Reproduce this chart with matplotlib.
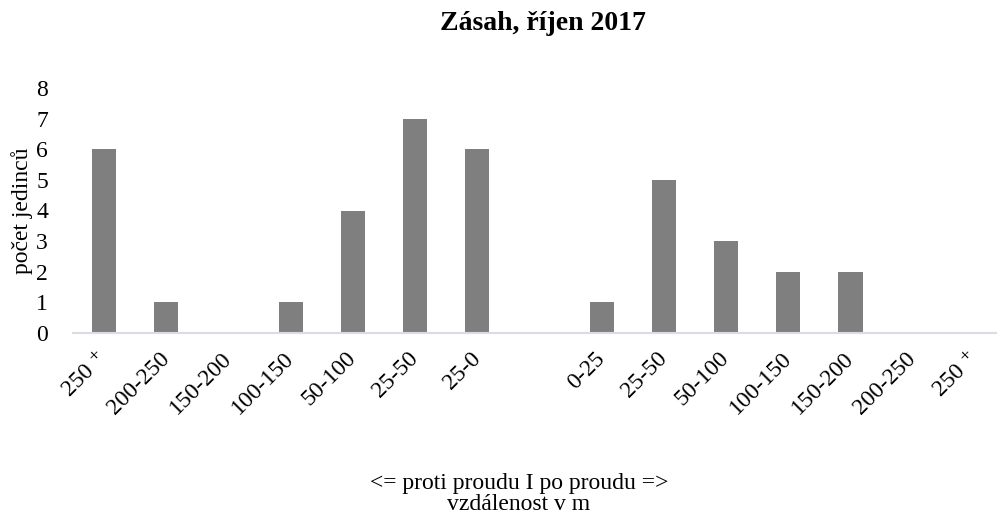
import matplotlib
matplotlib.use("Agg")
import matplotlib.pyplot as plt

plt.rcParams['font.family'] = ['Liberation Serif', 'DejaVu Serif']

# kategorie vzdalenosti (proti proudu | mezera | po proudu)
kategorie = ["250 ⁺", "200-250", "150-200", "100-150", "50-100", "25-50", "25-0",
             "",
             "0-25", "25-50", "50-100", "100-150", "150-200", "200-250", "250 ⁺"]
pocet = [6, 1, 0, 1, 4, 7, 6, 0, 1, 5, 3, 2, 2, 0, 0]

fig = plt.figure(figsize=(9.97, 5.17), dpi=100)
ax = fig.add_axes([73 / 997, 1 - 333 / 517, 933 / 997, 245 / 517])

x = list(range(len(kategorie)))
ax.bar(x, pocet, width=0.39, color="#7f7f7f", zorder=2)

ax.set_xlim(-0.5, len(kategorie) - 0.5)
ax.set_ylim(0, 8)
ax.set_yticks(range(0, 9))
ax.set_xticks(x)
ax.set_xticklabels(kategorie, rotation=45, ha="right", va="center",
                   rotation_mode="anchor", fontsize=17)
ax.tick_params(axis="x", length=0, pad=16)
ax.tick_params(axis="y", length=0, labelsize=17, pad=18)

for s in ["top", "right", "left"]:
    ax.spines[s].set_visible(False)
ax.spines["bottom"].set_color("#d9dde3")
ax.spines["bottom"].set_linewidth(1.5)

ax.set_ylabel("počet jedinců", fontsize=17, labelpad=2)
fig.text(543 / 997, 1 - 24 / 517, "Zásah, říjen 2017", ha="center", va="center",
         fontsize=20, fontweight="bold")
fig.text(519 / 997, 1 - 483 / 517, "<= proti proudu I po proudu =>", ha="center",
         va="center", fontsize=17)
fig.text(519 / 997, 1 - 505 / 517, "vzdálenost v m", ha="center", va="center",
         fontsize=17)

fig.savefig("out.png", dpi=100)
